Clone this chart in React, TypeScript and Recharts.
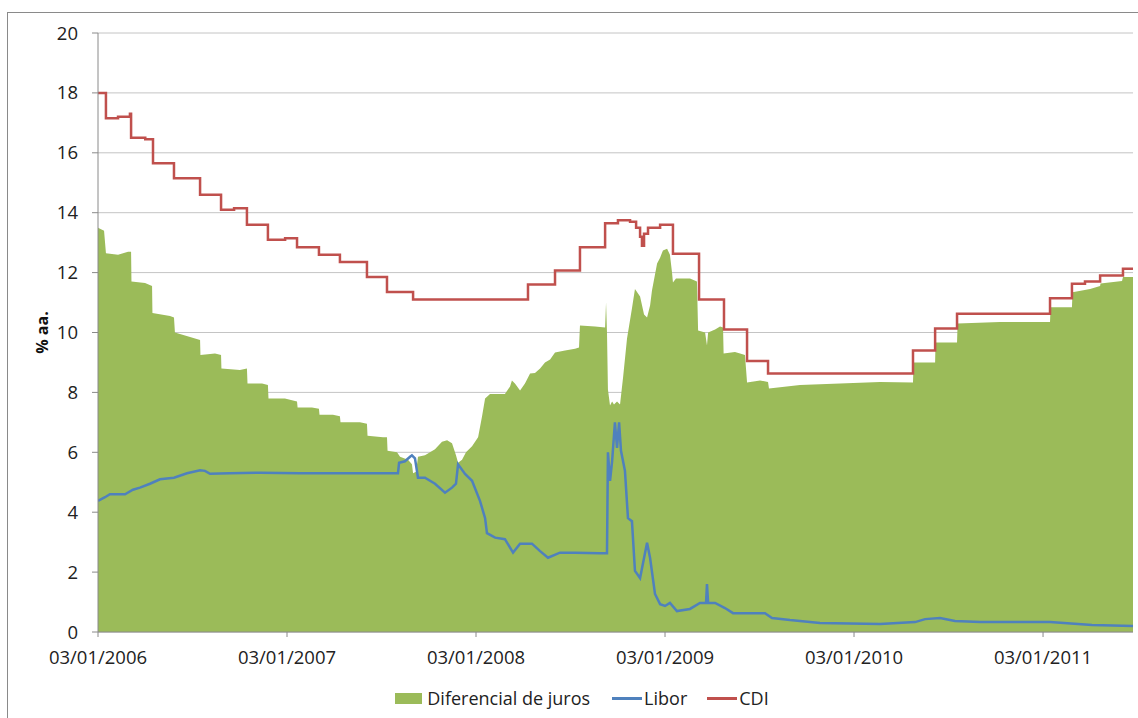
import React from "react";
import {
  ComposedChart,
  Area,
  Line,
  XAxis,
  YAxis,
  CartesianGrid,
  Legend,
  Label,
} from "recharts";

// Time is expressed in years since 03/01/2006 (2006.000 = 03/01/2006)
const TICK_YEARS = [2006, 2007, 2008, 2009, 2010, 2011];
const TICK_LABELS = ["03/01/2006", "03/01/2007", "03/01/2008", "03/01/2009", "03/01/2010", "03/01/2011"];
const Y_TICKS = [0, 2, 4, 6, 8, 10, 12, 14, 16, 18, 20];
const X_END = 2011.476;

// CDI (% a.a.)
const CDI_T = [
  2006.0, 2006.042, 2006.106, 2006.169, 2006.175, 2006.25, 2006.291, 2006.402, 2006.54, 2006.651,
  2006.72, 2006.788, 2006.899, 2006.99, 2007.053, 2007.169, 2007.28, 2007.423, 2007.529, 2007.667,
  2008.275, 2008.418, 2008.55, 2008.683, 2008.751, 2008.815, 2008.847, 2008.868, 2008.878, 2008.889,
  2008.91, 2008.974, 2009.042, 2009.18, 2009.312, 2009.434, 2009.545, 2010.312, 2010.429, 2010.545,
  2011.037, 2011.153, 2011.222, 2011.302, 2011.423, 2011.476,
];
const CDI_V = [
  18.0, 17.15, 17.2, 17.3, 16.5, 16.45, 15.65, 15.15, 14.6, 14.1,
  14.15, 13.6, 13.1, 13.15, 12.85, 12.6, 12.35, 11.85, 11.35, 11.1,
  11.6, 12.07, 12.85, 13.65, 13.75, 13.7, 13.5, 13.2, 12.9, 13.3,
  13.5, 13.6, 12.63, 11.1, 10.1, 9.05, 8.63, 9.4, 10.13, 10.63,
  11.14, 11.63, 11.7, 11.9, 12.13, 12.13,
];

// Libor (% a.a.)
const LIBOR_T = [
  2006.0, 2006.037, 2006.063, 2006.143, 2006.185, 2006.222, 2006.275, 2006.328, 2006.402, 2006.471,
  2006.54, 2006.566, 2006.593, 2006.698, 2006.857, 2007.069, 2007.28, 2007.587, 2007.593, 2007.624,
  2007.651, 2007.661, 2007.677, 2007.693, 2007.73, 2007.783, 2007.836, 2007.873, 2007.894, 2007.905,
  2007.942, 2007.979, 2008.021, 2008.048, 2008.058, 2008.101, 2008.153, 2008.196, 2008.233, 2008.296,
  2008.339, 2008.381, 2008.444, 2008.524, 2008.656, 2008.693, 2008.698, 2008.709, 2008.72, 2008.735,
  2008.746, 2008.757, 2008.767, 2008.788, 2008.804, 2008.825, 2008.841, 2008.868, 2008.889, 2008.905,
  2008.921, 2008.947, 2008.974, 2009.0, 2009.026, 2009.063, 2009.132, 2009.185, 2009.217, 2009.222,
  2009.228, 2009.265, 2009.317, 2009.36, 2009.529, 2009.566, 2009.661, 2009.714, 2009.82, 2010.138,
  2010.323, 2010.376, 2010.455, 2010.534, 2010.667, 2011.037, 2011.259, 2011.476,
];
const LIBOR_V = [
  4.38, 4.5, 4.6, 4.6, 4.75, 4.82, 4.95, 5.1, 5.15, 5.3,
  5.4, 5.38, 5.28, 5.3, 5.32, 5.3, 5.3, 5.3, 5.65, 5.7,
  5.85, 5.9, 5.8, 5.15, 5.15, 4.95, 4.65, 4.82, 4.95, 5.6,
  5.28, 5.05, 4.38, 3.8, 3.3, 3.15, 3.1, 2.65, 2.95, 2.95,
  2.7, 2.48, 2.65, 2.65, 2.63, 2.63, 6.0, 5.05, 5.7, 7.0,
  6.15, 7.0, 6.05, 5.38, 3.8, 3.7, 2.04, 1.8, 2.47, 2.98,
  2.47, 1.27, 0.93, 0.87, 0.97, 0.7, 0.77, 0.97, 0.97, 1.6,
  0.97, 0.97, 0.8, 0.63, 0.63, 0.47, 0.4, 0.37, 0.3, 0.27,
  0.33, 0.43, 0.47, 0.37, 0.33, 0.33, 0.23, 0.2,
];

// Diferencial de juros (% a.a.)
const DIF_T = [
  2006.0, 2006.032, 2006.042, 2006.106, 2006.159, 2006.175, 2006.177, 2006.249, 2006.286, 2006.288,
  2006.381, 2006.402, 2006.407, 2006.487, 2006.54, 2006.542, 2006.619, 2006.651, 2006.653, 2006.751,
  2006.788, 2006.791, 2006.868, 2006.899, 2006.902, 2006.989, 2007.053, 2007.056, 2007.132, 2007.169,
  2007.172, 2007.243, 2007.28, 2007.283, 2007.386, 2007.423, 2007.426, 2007.508, 2007.529, 2007.532,
  2007.582, 2007.598, 2007.64, 2007.661, 2007.667, 2007.683, 2007.693, 2007.73, 2007.783, 2007.82,
  2007.847, 2007.873, 2007.894, 2007.905, 2007.926, 2007.947, 2007.979, 2008.011, 2008.032, 2008.048,
  2008.074, 2008.153, 2008.18, 2008.19, 2008.206, 2008.233, 2008.259, 2008.286, 2008.312, 2008.339,
  2008.365, 2008.392, 2008.418, 2008.471, 2008.524, 2008.545, 2008.55, 2008.63, 2008.683, 2008.688,
  2008.693, 2008.698, 2008.709, 2008.72, 2008.73, 2008.746, 2008.762, 2008.778, 2008.799, 2008.825,
  2008.841, 2008.868, 2008.889, 2008.905, 2008.921, 2008.931, 2008.958, 2008.974, 2008.989, 2009.011,
  2009.026, 2009.037, 2009.042, 2009.058, 2009.132, 2009.169, 2009.175, 2009.212, 2009.222, 2009.228,
  2009.265, 2009.291, 2009.307, 2009.31, 2009.37, 2009.397, 2009.423, 2009.434, 2009.503, 2009.545,
  2009.55, 2009.714, 2009.926, 2010.138, 2010.312, 2010.315, 2010.429, 2010.431, 2010.545, 2010.548,
  2010.772, 2011.037, 2011.04, 2011.153, 2011.156, 2011.249, 2011.302, 2011.304, 2011.418, 2011.423,
  2011.476,
];
const DIF_V = [
  13.5, 13.4, 12.65, 12.6, 12.7, 12.7, 11.7, 11.65, 11.55, 10.65,
  10.55, 10.5, 10.0, 9.85, 9.75, 9.25, 9.3, 9.25, 8.8, 8.75,
  8.8, 8.3, 8.3, 8.25, 7.8, 7.8, 7.7, 7.5, 7.5, 7.45,
  7.25, 7.25, 7.2, 7.0, 7.0, 6.95, 6.55, 6.5, 6.5, 6.05,
  6.0, 5.85, 5.75, 5.6, 5.3, 5.35, 5.85, 5.9, 6.1, 6.35,
  6.4, 6.3, 5.9, 5.65, 5.75, 6.0, 6.2, 6.5, 7.2, 7.8,
  7.95, 7.95, 8.2, 8.4, 8.3, 8.06, 8.3, 8.63, 8.65, 8.8,
  9.0, 9.1, 9.33, 9.4, 9.46, 9.5, 10.23, 10.2, 10.17, 11.0,
  10.0, 8.1, 7.56, 7.7, 7.6, 7.7, 7.6, 8.5, 9.8, 10.8,
  11.45, 11.2, 10.6, 10.5, 10.9, 11.4, 12.3, 12.5, 12.74, 12.8,
  12.6, 12.0, 11.67, 11.8, 11.8, 11.7, 10.07, 10.0, 9.57, 10.0,
  10.1, 10.2, 10.17, 9.3, 9.35, 9.3, 9.25, 8.33, 8.4, 8.35,
  8.13, 8.25, 8.3, 8.35, 8.33, 9.0, 9.0, 9.67, 9.67, 10.3,
  10.35, 10.35, 10.84, 10.84, 11.34, 11.45, 11.55, 11.64, 11.72, 11.85,
  11.85,
];

const cdiData = CDI_T.map((t, i) => ({ t, v: CDI_V[i] }));
const liborData = LIBOR_T.map((t, i) => ({ t, v: LIBOR_V[i] }));
const difData = DIF_T.map((t, i) => ({ t, v: DIF_V[i] }));

const GREEN = "#9BBB59";
const BLUE = "#4F81BD";
const RED = "#C0504D";
const FONT = "'Open Sans', sans-serif";

const renderLegend = () => (
  <div
    style={{
      display: "flex",
      alignItems: "center",
      justifyContent: "center",
      fontFamily: FONT,
      fontSize: 18,
      color: "#222",
      paddingLeft: 26,
    }}
  >
    <span style={{ display: "inline-block", width: 27, height: 11, background: GREEN, marginRight: 5 }} />
    <span style={{ marginRight: 22 }}>Diferencial de juros</span>
    <span style={{ display: "inline-block", width: 30, height: 3, background: BLUE, marginRight: 2 }} />
    <span style={{ marginRight: 20 }}>Libor</span>
    <span style={{ display: "inline-block", width: 30, height: 3, background: RED, marginRight: 2 }} />
    <span>CDI</span>
  </div>
);

export default function App() {
  return (
    <div
      style={{
        position: "absolute",
        left: 0,
        top: 0,
        width: 1138,
        height: 718,
        overflow: "hidden",
        background: "#fff",
      }}
    >
      <div
        style={{
          position: "absolute",
          left: 7,
          top: 12,
          width: 1150,
          height: 730,
          border: "1px solid #8a8a8a",
        }}
      />
      <div style={{ position: "absolute", left: 0, top: 0 }}>
        <ComposedChart
          width={1138}
          height={718}
          margin={{ top: 33, right: 5, bottom: 20, left: 38 }}
          style={{ fontFamily: FONT }}
        >
          <CartesianGrid vertical={false} stroke="#c4c4c4" strokeWidth={1} />
          <XAxis
            type="number"
            dataKey="t"
            domain={[2006, X_END]}
            ticks={TICK_YEARS}
            allowDataOverflow
            tickFormatter={(v: number) => TICK_LABELS[TICK_YEARS.indexOf(v)] ?? ""}
            height={40}
            tickSize={5}
            tickMargin={14}
            stroke="#8a8a8a"
            tick={{ fill: "#222", fontSize: 18.5, fontFamily: FONT }}
          />
          <YAxis
            type="number"
            domain={[0, 20]}
            ticks={Y_TICKS}
            width={60}
            tickSize={6}
            tickMargin={14}
            stroke="#8a8a8a"
            tick={{ fill: "#222", fontSize: 18.5, fontFamily: FONT }}
          >
            <Label
              value="% aa."
              angle={-90}
              position="insideLeft"
              offset={0}
              dx={4}
              style={{ fontWeight: "bold", fontSize: 16, fill: "#111", fontFamily: FONT, textAnchor: "middle" }}
            />
          </YAxis>
          <Legend
            verticalAlign="bottom"
            content={renderLegend}
            wrapperStyle={{ position: "absolute", left: 0, top: 686, width: 1138, height: 26 }}
          />
          <Area
            data={difData}
            dataKey="v"
            name="Diferencial de juros"
            type="linear"
            stroke="none"
            fill={GREEN}
            fillOpacity={1}
            isAnimationActive={false}
            dot={false}
            activeDot={false}
          />
          <Line
            data={liborData}
            dataKey="v"
            name="Libor"
            type="linear"
            stroke={BLUE}
            strokeWidth={2.5}
            dot={false}
            activeDot={false}
            isAnimationActive={false}
          />
          <Line
            data={cdiData}
            dataKey="v"
            name="CDI"
            type="stepAfter"
            stroke={RED}
            strokeWidth={2.5}
            dot={false}
            activeDot={false}
            isAnimationActive={false}
          />
        </ComposedChart>
      </div>
    </div>
  );
}
